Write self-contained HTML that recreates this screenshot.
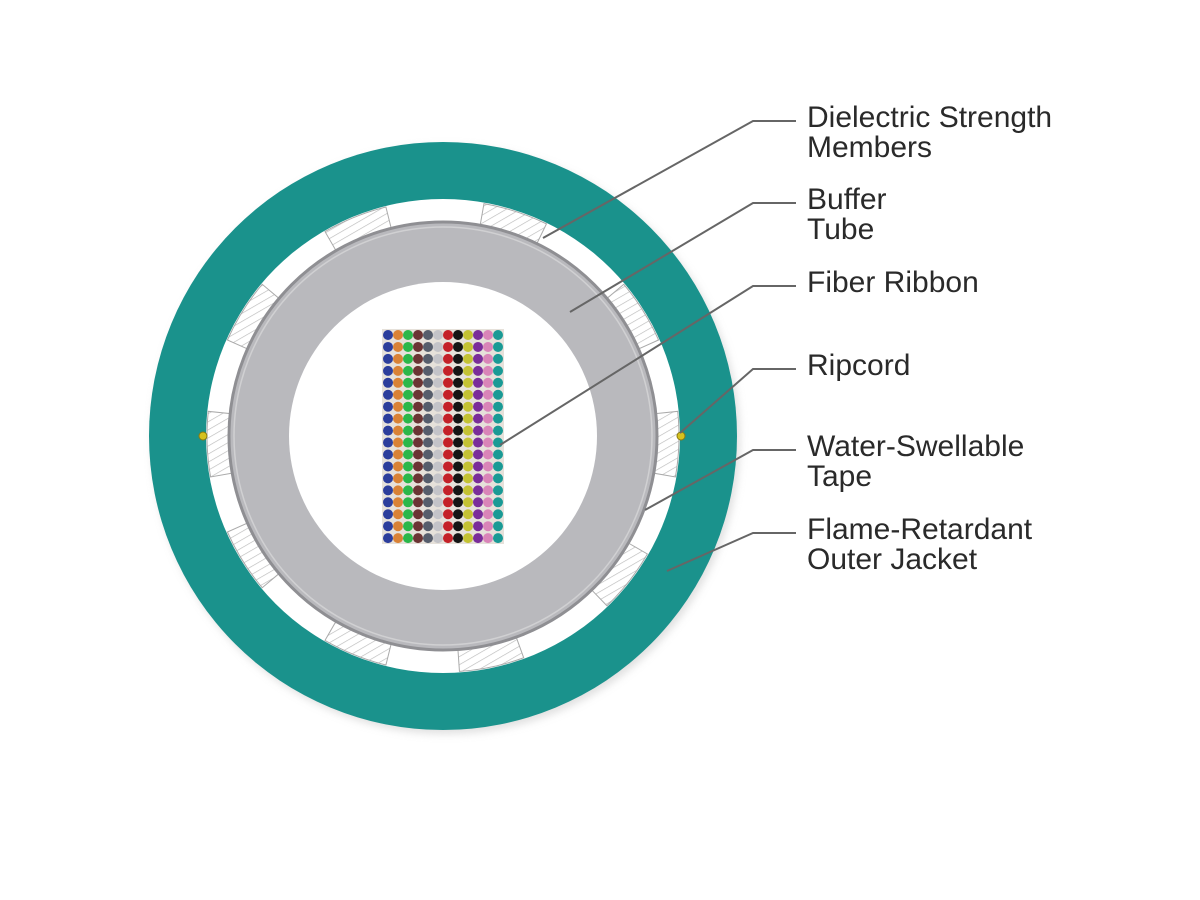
<!DOCTYPE html>
<html><head><meta charset="utf-8"><style>
html,body{margin:0;padding:0;background:#fff;}
svg{display:block}
text{font-family:"Liberation Sans",Arial,sans-serif;font-size:30px;fill:#2a2a2a;}
</style></head><body>
<svg width="1200" height="900" viewBox="0 0 1200 900" xmlns="http://www.w3.org/2000/svg">
<defs>
<pattern id="hatch" patternUnits="userSpaceOnUse" width="7" height="7" patternTransform="rotate(60)">
<rect width="7" height="7" fill="#fff"/><line x1="0" y1="0" x2="0" y2="7" stroke="#bbb" stroke-width="1.3"/>
</pattern>
<filter id="sh" x="-10%" y="-10%" width="120%" height="120%"><feGaussianBlur stdDeviation="4"/></filter>
</defs>
<circle cx="446" cy="440" r="294" fill="#ccc" filter="url(#sh)" opacity="0.6"/>
<circle cx="443" cy="436" r="294" fill="#1a928c"/>
<circle cx="443" cy="436" r="237" fill="#fff"/>
<g fill="url(#hatch)" stroke="#aaa" stroke-width="1" id="members"></g>
<circle cx="443" cy="436" r="214" fill="#b9b9bd" stroke="#8f8f93" stroke-width="3"/>
<circle cx="443" cy="436" r="209" fill="none" stroke="#d0d0d2" stroke-width="1.5"/>
<circle cx="443" cy="436" r="154" fill="#fff"/>
<rect x="382" y="329" width="122" height="215" fill="#e6e1da"/>
<g id="dots"></g>
<circle cx="203" cy="436" r="4" fill="#d6c21e" stroke="#8a7a10" stroke-width="1"/>
<circle cx="681" cy="436" r="4" fill="#d6c21e" stroke="#8a7a10" stroke-width="1"/>
<g stroke="#666" stroke-width="2" fill="none">
<polyline points="796,121 753,121 543,238"/>
<polyline points="796,203 753,203 570,312"/>
<polyline points="796,286 753,286 500,445"/>
<polyline points="796,369 753,369 680,433"/>
<polyline points="796,450 753,450 645,510"/>
<polyline points="796,533 753,533 667,571"/>
</g>
<text x="807" y="127">Dielectric Strength</text>
<text x="807" y="157">Members</text>
<text x="807" y="209">Buffer</text>
<text x="807" y="239">Tube</text>
<text x="807" y="292">Fiber Ribbon</text>
<text x="807" y="375">Ripcord</text>
<text x="807" y="456">Water-Swellable</text>
<text x="807" y="486">Tape</text>
<text x="807" y="539">Flame-Retardant</text>
<text x="807" y="569">Outer Jacket</text>
</svg>
<script>
(function(){
var ns="http://www.w3.org/2000/svg";
var g=document.getElementById("members");
var cx=443,cy=436,r1=214,r2=236;
var list=[-112,-72,-148,-32,2,38,78,112,148,178];
list.forEach(function(a){
 var w=16;var a1=(a-w/2)*Math.PI/180,a2=(a+w/2)*Math.PI/180;
 var p="M"+(cx+r1*Math.cos(a1))+","+(cy+r1*Math.sin(a1))+" L"+(cx+r2*Math.cos(a1))+","+(cy+r2*Math.sin(a1))+" A"+r2+","+r2+" 0 0 1 "+(cx+r2*Math.cos(a2))+","+(cy+r2*Math.sin(a2))+" L"+(cx+r1*Math.cos(a2))+","+(cy+r1*Math.sin(a2))+" A"+r1+","+r1+" 0 0 0 "+(cx+r1*Math.cos(a1))+","+(cy+r1*Math.sin(a1))+"Z";
 var e=document.createElementNS(ns,"path");e.setAttribute("d",p);g.appendChild(e);
});
var d=document.getElementById("dots");
var cols=["#2c3e9c","#d98236","#2bb74a","#6b3434","#565d6c","#c3c3c8","#c42128","#151515","#c3c233","#7a2d9a","#d984b8","#1a9a95"];
for(var r=0;r<18;r++)for(var c=0;c<12;c++){
 var e=document.createElementNS(ns,"circle");
 e.setAttribute("cx",388+c*10);e.setAttribute("cy",335+r*11.95);e.setAttribute("r",5);e.setAttribute("fill",cols[c]);d.appendChild(e);
}
})();
</script>
</body></html>
